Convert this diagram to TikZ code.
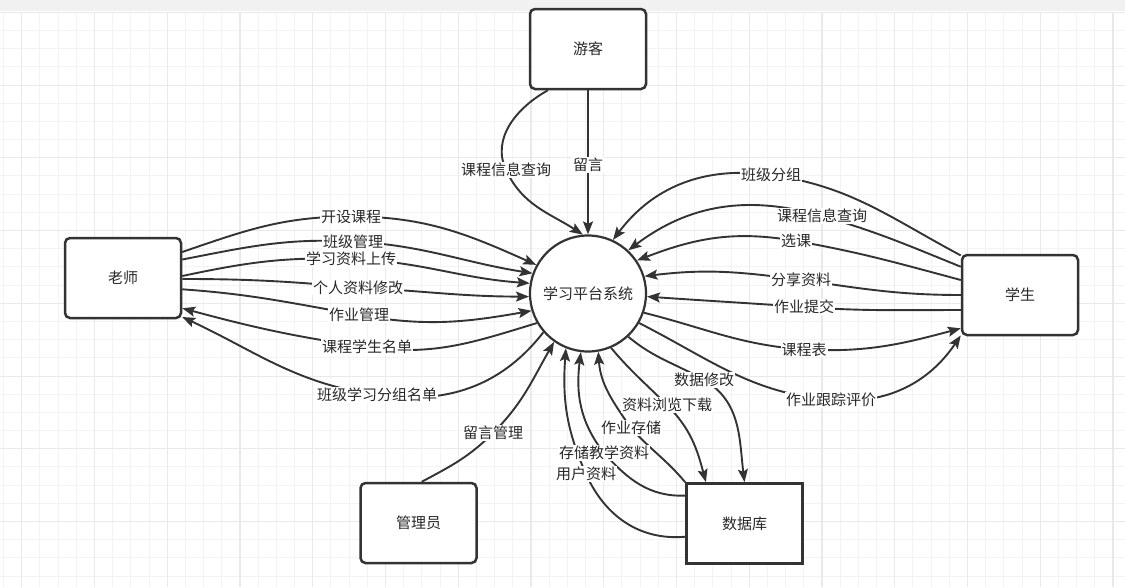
\documentclass[tikz,border=0pt]{standalone}
\usepackage{fontspec}
\newfontfamily\cjk{Noto Sans CJK SC}
\usetikzlibrary{arrows.meta,calc}
\definecolor{bandgray}{RGB}{241,241,241}
\definecolor{gridminor}{RGB}{243,243,243}
\definecolor{gridmajor}{RGB}{233,233,233}
\definecolor{ink}{RGB}{51,51,51}
\definecolor{txt}{RGB}{40,40,40}
\newcommand{\lblfont}{\cjk\fontsize{15}{18}\selectfont}

\begin{document}
\begin{tikzpicture}[x=1pt,y=-1pt,
  box/.style={draw=ink, line width=2.5pt, rounded corners=5pt, fill=white,
    minimum width=116pt, minimum height=80pt, inner sep=0pt,
    font=\lblfont, text=txt},
  sharpbox/.style={box, sharp corners, line width=2.7pt},
  proc/.style={circle, draw=ink, line width=2.2pt, fill=white,
    minimum size=116pt, inner sep=0pt, font=\lblfont, text=txt},
  flow/.style={draw=ink, line width=1.9pt, line join=round,
    -{Stealth[length=13pt,width=10pt,inset=2.5pt]}},
  lbl/.style={fill=white, inner sep=1pt, font=\lblfont, text=txt},
  minorline/.style={draw=gridminor, line width=1pt},
  majorline/.style={draw=gridmajor, line width=1.1pt},
]
\useasboundingbox (0,0) rectangle (1125,587);
\fill[white] (0,0) rectangle (1125,587);

% background grid
\foreach \i in {0,...,61} \draw[minorline] ({3.5+18.1875*\i},12) -- ++(0,575);
\foreach \j in {0,...,31} \draw[minorline] (0,{12.3+18.1875*\j}) -- ++(1125,0);
\foreach \k in {0,...,15} \draw[majorline] ({21.7+72.75*\k},12) -- ++(0,575);
\foreach \k in {0,...,7} \draw[majorline] (0,{12.3+72.75*\k}) -- ++(1125,0);
\fill[bandgray] (0,0) rectangle (1125,11);

% entities and the central process
\node[box] (guest) at (588,49) {游客};
\node[box] (teacher) at (123,278) {老师};
\node[box] (student) at (1020,295) {学生};
\node[box] (admin) at (418.5,523) {管理员};
\node[sharpbox] (db) at (744.5,523.5) {数据库};
\node[proc] (sys) at (588,293.5) {学习平台系统};

% attachment points on the entity borders
\coordinate (G1) at ($(guest.south west)!0.162!(guest.south east)$);
\coordinate (T1) at ($(teacher.north east)!0.185!(teacher.south east)$);
\coordinate (T2) at ($(teacher.north east)!0.276!(teacher.south east)$);
\coordinate (T3) at ($(teacher.north east)!0.476!(teacher.south east)$);
\coordinate (T4) at ($(teacher.north east)!0.512!(teacher.south east)$);
\coordinate (T5) at ($(teacher.north east)!0.637!(teacher.south east)$);
\coordinate (T8) at ($(teacher.north east)!0.867!(teacher.south east)$);
\coordinate (T9) at ($(teacher.north east)!0.973!(teacher.south east)$);
\coordinate (S1) at ($(student.north west)!0.02!(student.south west)$);
\coordinate (S2) at ($(student.north west)!0.157!(student.south west)$);
\coordinate (S3) at ($(student.north west)!0.318!(student.south west)$);
\coordinate (S4) at ($(student.north west)!0.5!(student.south west)$);
\coordinate (S5) at ($(student.north west)!0.682!(student.south west)$);
\coordinate (S6) at ($(student.north west)!0.904!(student.south west)$);
\coordinate (S7) at ($(student.north west)!0.99!(student.south west)$);
\coordinate (A1) at ($(admin.north west)!0.527!(admin.north east)$);
\coordinate (D1) at ($(db.north west)!0.66!(db.south west)$);
\coordinate (D2) at ($(db.north west)!0.163!(db.south west)$);
\coordinate (D4) at ($(db.north west)!0.175!(db.north east)$);

% label positions
\coordinate (L1) at (506,170);
\coordinate (L2) at ($(guest.south)!0.52!(sys.north)$);
\coordinate (L3) at (351,216.5);
\coordinate (L4) at (353,241.5);
\coordinate (L5) at (351,259);
\coordinate (L6) at (358,287.5);
\coordinate (L7) at (359,315);
\coordinate (L8) at (367,347);
\coordinate (L9) at (377,395);
\coordinate (L10) at (771,175);
\coordinate (L11) at (822,216);
\coordinate (L12) at (796,241);
\coordinate (L13) at (801,280);
\coordinate (L14) at (804,307);
\coordinate (L15) at (804,349.5);
\coordinate (L16) at (831,400);
\coordinate (L17) at (493,433);
\coordinate (L18) at (586,474);
\coordinate (L19) at (604,453);
\coordinate (L20) at (631,428);
\coordinate (L21) at (667,405);
\coordinate (L22) at (704,380);

% guest
\draw[flow] (G1) to[out=209, in=115] (L1) to[out=295, in=147] (sys.95);
\draw[flow] (guest.south) -- (sys.north);

% teacher
\draw[flow] (T1) to[out=19, in=180] (L3) to[out=0, in=156] (sys.151);
\draw[flow] (T2) to[out=11, in=177] (L4) to[out=-3, in=171] (sys.160);
\draw[flow] (T3) to[out=12, in=178] (L5) to[out=-2, in=176] (sys.170);
\draw[flow] (T4) to[out=0, in=175] (L6) to[out=-3, in=180] (sys.183);
\draw[flow] (T5) to[out=-4, in=170] (L7) to[out=-10, in=190] (sys.197);
\draw[flow] (sys.210) to[out=197, in=-8] (L8) to[out=172, in=-15] (T8);
\draw[flow] (sys.221) to[out=232, in=-8] (L9) to[out=172, in=-25] (T9);

% student
\draw[flow] (S1) to[out=152, in=-8] (L10) to[out=172, in=53] (sys.65);
\draw[flow] (S2) to[out=158, in=-16] (L11) to[out=164, in=37] (sys.47);
\draw[flow] (S3) to[out=165, in=-10] (L12) to[out=170, in=21] (sys.34);
\draw[flow] (S4) to[out=180, in=-8] (L13) to[out=172, in=7] (sys.17);
\draw[flow] (S5) to[out=180, in=-4] (L14) to[out=176, in=-4] (sys.-3);
\draw[flow] (sys.-19) to[out=-14, in=176] (L15) to[out=-3, in=195] (S6);
\draw[flow] (sys.-30) to[out=-27, in=175] (L16) to[out=-5, in=236] (S7);

% administrator and database
\draw[flow] (A1) to[out=28, in=225] (L17) to[out=45, in=240] (sys.235);
\draw[flow] (D1) to[out=185, in=-66] (L18) to[out=114, in=266] (sys.248);
\draw[flow] (D2) to[out=182, in=-48] (L19) to[out=128, in=263] (sys.263);
\draw[flow] (db.north west) to[out=130, in=-48] (L20) to[out=125, in=274] (sys.280);
\draw[flow] (sys.293) to[out=-50, in=135] (L21) to[out=-45, in=105] (D4);
\draw[flow] (sys.313) to[out=-40, in=150] (L22) to[out=-30, in=97] (db.north);

% flow labels
\node[lbl] at (L1) {课程信息查询};
\node[lbl] at (L2) {留言};
\node[lbl] at (L3) {开设课程};
\node[lbl] at (L4) {班级管理};
\node[lbl] at (L5) {学习资料上传};
\node[lbl] at (L6) {个人资料修改};
\node[lbl] at (L7) {作业管理};
\node[lbl] at (L8) {课程学生名单};
\node[lbl] at (L9) {班级学习分组名单};
\node[lbl] at (L10) {班级分组};
\node[lbl] at (L11) {课程信息查询};
\node[lbl] at (L12) {选课};
\node[lbl] at (L13) {分享资料};
\node[lbl] at (L14) {作业提交};
\node[lbl] at (L15) {课程表};
\node[lbl] at (L16) {作业跟踪评价};
\node[lbl] at (L17) {留言管理};
\node[lbl] at (L18) {用户资料};
\node[lbl] at (L19) {存储教学资料};
\node[lbl] at (L20) {作业存储};
\node[lbl] at (L21) {资料浏览下载};
\node[lbl] at (L22) {数据修改};
\end{tikzpicture}
\end{document}
